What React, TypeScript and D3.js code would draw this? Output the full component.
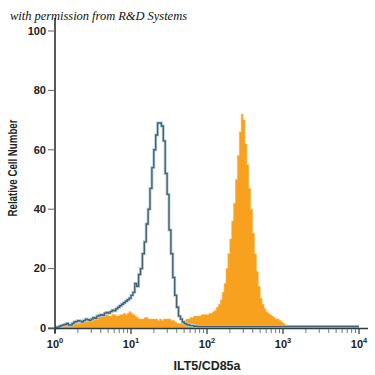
import { useEffect, useRef } from "react";
import * as d3 from "d3";

// histogram bins: each value covers [i*0.025, (i+1)*0.025] in log10 units
const BIN_WIDTH = 0.025;

// isotype control (blue outline)
const isotype = [
  0, 0.3, 0.5, 0.8, 1, 1.2, 1.5, 1, 1, 1.5, 2, 2.2, 2.5, 2.3, 2, 2.5, 3, 2.8, 2.5, 3,
  3.5, 3.3, 4, 4.2, 4.5, 4.3, 5, 5.2, 5, 5.5, 6, 5.8, 6.5, 7, 7.5, 8, 8.5, 9, 9.5, 10,
  11, 12, 15, 14, 18, 20, 25, 29, 35, 40, 47, 54, 60, 65, 69, 69, 68, 63, 52, 45,
  33, 25, 17, 11, 7, 4, 3, 2, 1.5, 1.2, 1, 0.8, 0.8, 0.6, 0.6, 0.5, 0.5, 0.5, 0.5, 0.5,
  0.5, 0.5, 0.5, 0.5, 0.5, 0.5, 0.5, 0.5, 0.5, 0.5, 0.5, 0.5, 0.5, 0.5, 0.5, 0.5, 0.5, 0.5, 0.5, 0.5,
  0.5, 0.5, 0.5, 0.5, 0.5, 0.5, 0.5, 0.5, 0.5, 0.5, 0.5, 0.5, 0.5, 0.5, 0.5, 0.5, 0.5, 0.5, 0.5, 0.5,
  0.5, 0.5, 0.5, 0.5, 0.5, 0.5, 0.5, 0.5, 0.5, 0.5, 0.5, 0.5, 0.5, 0.5, 0.5, 0.5, 0.5, 0.5, 0.5, 0.5,
  0.5, 0.5, 0.5, 0.5, 0.5, 0.5, 0.5, 0.5, 0.5, 0.5, 0.5, 0.5, 0.5, 0.5, 0.5, 0.5, 0.5, 0.5, 0.5, 0.5,
];

// ILT5/CD85a stained (orange filled)
const stained = [
  0, 0, 0, 0, 0.5, 0.5, 1, 1, 1, 1, 1.5, 1.5, 1.5, 2, 2, 2, 2.5, 2, 2.5, 3,
  3.5, 4, 4, 4.5, 4.5, 4, 4.5, 4.5, 4, 4, 4.5, 4.5, 4, 4, 4.5, 4.5, 5, 4.5, 5, 5.5,
  5, 4.5, 4, 3.5, 3, 3, 3, 3.5, 3.5, 3, 3, 3, 3, 3, 2.5, 3, 2.5, 3, 3, 3,
  3, 2.5, 2.5, 2, 1.5, 1.5, 1.5, 2, 2.5, 3, 3, 3.5, 3.5, 4, 4, 4, 4, 4.5, 4.5, 4.5,
  4.5, 5, 5, 5.5, 6, 7, 8, 9.5, 12, 15, 20, 25, 30, 36, 42, 50, 58, 66, 72, 70,
  62, 55, 47, 40, 32, 25, 19, 14, 10, 8, 6.5, 5.5, 5, 4.5, 4, 3.5, 3, 3, 2.5, 2,
  1.5, 1, 0.5, 0.3, 0, 0, 0, 0, 0, 0, 0, 0, 0, 0, 0, 0, 0, 0, 0, 0,
  0, 0, 0, 0, 0, 0, 0, 0, 0, 0, 0, 0, 0, 0, 0, 0, 0, 0, 0, 0,
];

const yTicks = [0, 20, 40, 60, 80, 100];
const decades = [0, 1, 2, 3, 4];

export default function App() {
  const ref = useRef<SVGSVGElement | null>(null);

  useEffect(() => {
    if (!ref.current) return;
    const svg = d3.select(ref.current);
    svg.selectAll("*").remove();

    const x = d3.scaleLog().domain([1, 1e4]).range([55, 359]);
    const y = d3.scaleLinear().domain([0, 100]).range([328, 31]);

    const toPoints = (vals: number[]) => {
      const pts = vals.map((v, i) => [Math.pow(10, i * BIN_WIDTH), v] as [number, number]);
      pts.push([Math.pow(10, vals.length * BIN_WIDTH), vals[vals.length - 1]]);
      return pts;
    };

    // orange filled histogram
    const area = d3
      .area<[number, number]>()
      .x((d) => x(d[0]))
      .y0(y(0))
      .y1((d) => y(d[1]))
      .curve(d3.curveStepAfter);

    svg.append("path")
      .attr("d", area(toPoints(stained)))
      .attr("fill", "#f7a11e")
      .attr("stroke", "#f9b54a")
      .attr("stroke-width", 0.6);

    // isotype outline
    const line = d3
      .line<[number, number]>()
      .x((d) => x(d[0]))
      .y((d) => y(d[1]))
      .curve(d3.curveStepAfter);

    const isoPts = toPoints(isotype);
    svg.append("path")
      .attr("d", line(isoPts))
      .attr("fill", "none")
      .attr("stroke", "#b9d3dc")
      .attr("stroke-width", 3);
    svg.append("path")
      .attr("d", line(isoPts))
      .attr("fill", "none")
      .attr("stroke", "#46606e")
      .attr("stroke-width", 1.4);

    // axes lines
    svg.append("line")
      .attr("x1", 55).attr("x2", 55)
      .attr("y1", 18).attr("y2", 333)
      .attr("stroke", "#222").attr("stroke-width", 1.5);
    svg.append("line")
      .attr("x1", 48).attr("x2", 368)
      .attr("y1", 328.5).attr("y2", 328.5)
      .attr("stroke", "#2c3e45").attr("stroke-width", 1.5);

    // y ticks
    const yg = svg.append("g");
    yg.selectAll("line")
      .data(yTicks)
      .join("line")
      .attr("x1", 48).attr("x2", 55)
      .attr("y1", (d) => y(d)).attr("y2", (d) => y(d))
      .attr("stroke", "#666").attr("stroke-width", 1);
    yg.selectAll("text")
      .data(yTicks)
      .join("text")
      .attr("x", 46)
      .attr("y", (d) => y(d))
      .attr("dy", "0.35em")
      .attr("text-anchor", "end")
      .attr("font-family", "Liberation Sans, Arial, sans-serif")
      .attr("font-weight", "bold")
      .attr("font-size", 11)
      .attr("fill", "#222")
      .text((d) => d);

    // x ticks (log)
    const minor: number[] = [];
    decades.slice(0, -1).forEach((k) => {
      for (let m = 2; m <= 9; m++) minor.push(m * Math.pow(10, k));
    });
    const xg = svg.append("g");
    xg.selectAll("line.minor")
      .data(minor)
      .join("line")
      .attr("class", "minor")
      .attr("x1", (d) => x(d)).attr("x2", (d) => x(d))
      .attr("y1", 329).attr("y2", 333)
      .attr("stroke", "#777").attr("stroke-width", 1);
    xg.selectAll("line.major")
      .data(decades)
      .join("line")
      .attr("class", "major")
      .attr("x1", (d) => x(Math.pow(10, d))).attr("x2", (d) => x(Math.pow(10, d)))
      .attr("y1", 329).attr("y2", 334)
      .attr("stroke", "#333").attr("stroke-width", 1.2);
    const lbl = xg.selectAll("text")
      .data(decades)
      .join("text")
      .attr("x", (d) => x(Math.pow(10, d)))
      .attr("y", 348)
      .attr("text-anchor", "middle")
      .attr("font-family", "Liberation Sans, Arial, sans-serif")
      .attr("font-weight", "bold")
      .attr("font-size", 11)
      .attr("fill", "#222");
    lbl.append("tspan").text("10");
    lbl.append("tspan")
      .attr("dy", -5)
      .attr("font-size", 7.5)
      .text((d) => d);

    // titles
    svg.append("text")
      .attr("x", 207).attr("y", 370)
      .attr("text-anchor", "middle")
      .attr("font-family", "Liberation Sans, Arial, sans-serif")
      .attr("font-weight", "bold")
      .attr("font-size", 12.5)
      .attr("textLength", 67)
      .attr("lengthAdjust", "spacingAndGlyphs")
      .attr("fill", "#222")
      .text("ILT5/CD85a");

    svg.append("text")
      .attr("transform", "translate(17,168) rotate(-90)")
      .attr("text-anchor", "middle")
      .attr("font-family", "Liberation Sans, Arial, sans-serif")
      .attr("font-weight", "bold")
      .attr("font-size", 12.5)
      .attr("textLength", 97)
      .attr("lengthAdjust", "spacingAndGlyphs")
      .attr("fill", "#222")
      .text("Relative Cell Number");

    svg.append("text")
      .attr("x", 10).attr("y", 20)
      .attr("font-family", "Liberation Serif, serif")
      .attr("font-style", "italic")
      .attr("font-size", 12.5)
      .attr("textLength", 177)
      .attr("fill", "#111")
      .text("with permission from R&D Systems");
  }, []);

  return (
    <svg
      ref={ref}
      width={375}
      height={375}
      style={{ position: "absolute", left: 0, top: 0, background: "#fff" }}
    />
  );
}
